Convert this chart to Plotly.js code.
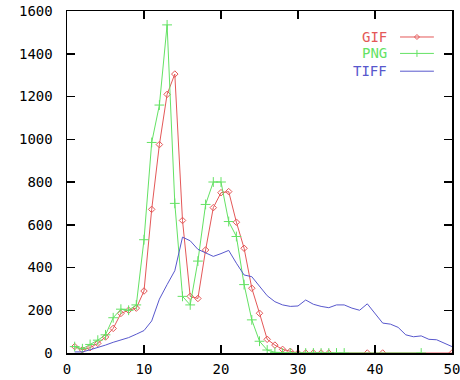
<!DOCTYPE html>
<html>
<head>
<meta charset="utf-8">
<script src="https://cdn.plot.ly/plotly-3.0.1.min.js"></script>
<style>html,body{margin:0;padding:0;background:#fff;}#chart{width:460px;height:380px;}</style>
</head>
<body>
<div id="chart"></div>
<script>
// Data
const seriesNames = ["GIF", "PNG", "TIFF"];

const gifX = [1,2,3,4,5,6,7,8,9,10,11,12,13,14,15,16,17,18,19,20,21,22,23,24,25,26,27,28,29,30,31,32,33,34,39,41,50];
const gifY = [30,15,25,45,75,115,185,200,210,290,672,975,1210,1305,620,265,255,482,680,750,755,612,490,303,186,64,37,17,8,0,0,0,0,0,0,0,0];

const pngX = [1,2,3,4,5,6,7,8,9,10,11,12,13,14,15,16,17,18,19,20,21,22,23,24,25,26,27,28,29,30,31,32,33,34,35,36,46];
const pngY = [30,20,40,60,85,165,205,200,225,530,985,1160,1535,700,265,225,430,695,800,800,615,545,320,155,55,14,3,0,0,0,0,0,0,0,0,0,0];

const tiffX = [1,2,3,4,5,6,7,8,9,10,11,12,13,14,15,16,17,18,19,20,21,22,23,24,25,26,27,28,29,30,31,32,33,34,35,36,37,38,39,40,41,42,43,44,45,46,47,48,49,50];
const tiffY = [5,5,15,25,37,50,61,72,88,105,150,252,320,385,542,525,485,470,452,465,480,420,365,357,310,268,240,225,218,220,248,228,218,212,225,225,210,200,230,186,140,135,120,85,76,80,64,62,45,30];

const xTicks = [0,10,20,30,40,50];
const yTicks = [0,200,400,600,800,1000,1200,1400,1600];

const colors = {GIF: "rgb(228,88,88)", PNG: "rgb(100,226,100)", TIFF: "rgb(88,88,205)"};
const FONT = "DejaVu Sans Mono, Liberation Mono, monospace";

const traces = [
  {x: gifX, y: gifY, name: "GIF", type: "scatter", mode: "lines+markers", cliponaxis: true,
   line: {color: colors.GIF, width: 1},
   marker: {symbol: "diamond-open", size: 5, color: colors.GIF, line: {color: colors.GIF, width: 1}}},
  {x: pngX, y: pngY, name: "PNG", type: "scatter", mode: "lines+markers", cliponaxis: true,
   line: {color: colors.PNG, width: 1},
   marker: {symbol: "cross-thin-open", size: 7, color: colors.PNG, line: {color: colors.PNG, width: 1}}},
  {x: tiffX, y: tiffY, name: "TIFF", type: "scatter", mode: "lines",
   line: {color: colors.TIFF, width: 1}}
];

// Gnuplot-style key: text right-aligned, then sample line
const keyY = [0.924, 0.876, 0.824];
const annotations = seriesNames.map((n, i) => ({
  xref: "paper", yref: "paper", x: 0.836, y: keyY[i], xanchor: "right", yanchor: "middle",
  text: n, showarrow: false, font: {family: FONT, size: 14, color: colors[n]}
}));
const shapes = [];
seriesNames.forEach((n, i) => {
  shapes.push({type: "line", xref: "paper", yref: "paper", x0: 0.865, x1: 0.953, y0: keyY[i], y1: keyY[i],
               line: {color: colors[n], width: 1}});
});
shapes.push({type: "path", xref: "paper", yref: "paper", xsizemode: "pixel", ysizemode: "pixel",
             xanchor: 0.909, yanchor: keyY[0], path: "M -2.5 0 L 0 2.5 L 2.5 0 L 0 -2.5 Z",
             line: {color: colors.GIF, width: 1}});
shapes.push({type: "line", xref: "paper", yref: "paper", xsizemode: "pixel", ysizemode: "pixel",
             xanchor: 0.909, yanchor: keyY[1], x0: 0, x1: 0, y0: -3.5, y1: 3.5,
             line: {color: colors.PNG, width: 1}});

const axisCommon = {
  showgrid: false, zeroline: false, showline: true, linecolor: "#000", linewidth: 1.5,
  mirror: "ticks", ticks: "inside", ticklen: 8, tickwidth: 1.5, tickcolor: "#000",
  ticklabeloverflow: "allow",
  tickfont: {family: FONT, size: 14, color: "#000"}, fixedrange: true
};

const layout = {
  width: 460, height: 380,
  margin: {l: 67, r: 8, t: 11, b: 27, pad: 0},
  paper_bgcolor: "#fff", plot_bgcolor: "#fff",
  showlegend: false,
  xaxis: Object.assign({}, axisCommon, {range: [0, 50], tickvals: xTicks, ticktext: xTicks.map(String), ticklabelstandoff: 3}),
  yaxis: Object.assign({}, axisCommon, {range: [0, 1600], tickvals: yTicks, ticktext: yTicks.map(String), ticklabelstandoff: 10}),
  annotations: annotations,
  shapes: shapes
};

Plotly.newPlot("chart", traces, layout, {staticPlot: true, displayModeBar: false});
</script>
</body>
</html>
